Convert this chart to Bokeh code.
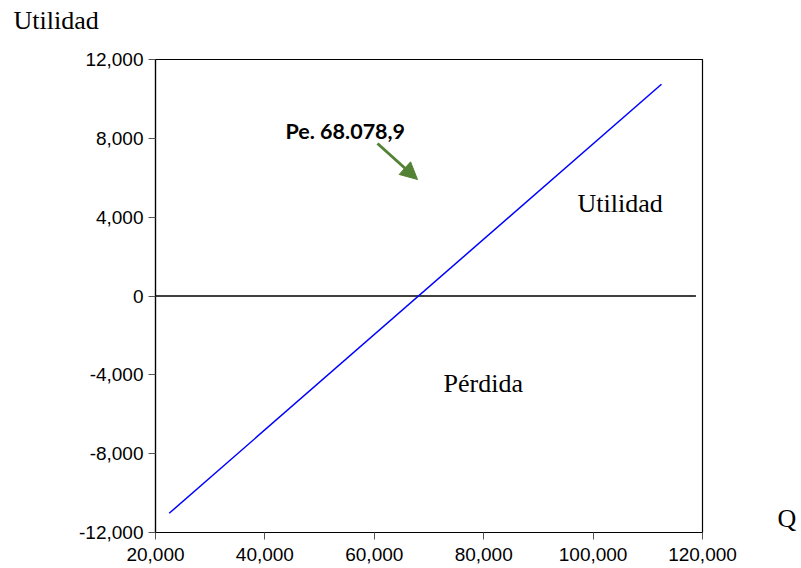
from bokeh.plotting import figure
from bokeh.models import (Range1d, FixedTicker, NumeralTickFormatter, Label, Arrow, NormalHead,
                          Title, LinearAxis)
from bokeh.embed import file_html
from bokeh.resources import INLINE

# Data
q_values = [22500, 112500]
utilidad_values = [-11026, 10747]
zero_q = [20000, 118800]
zero_u = [0, 0]
x_ticks = [20000, 40000, 60000, 80000, 100000, 120000]
y_ticks = [-12000, -8000, -4000, 0, 4000, 8000, 12000]
break_even_label = "Pe. 68.078,9"

p = figure(width=801, height=568, output_backend="svg", toolbar_location=None, title=None,
           x_range=Range1d(20000, 120000), y_range=Range1d(-12000, 12000),
           min_border_left=155, min_border_right=99, min_border_top=59, min_border_bottom=36)
p.xgrid.visible = False
p.ygrid.visible = False
p.outline_line_color = "black"
p.outline_line_width = 1.2
p.outline_line_alpha = 1

tick_font = "Liberation Sans"
for ax in (p.xaxis[0], p.yaxis[0]):
    ax.axis_line_color = "black"
    ax.axis_line_width = 1.2
    ax.major_tick_line_color = "#555555"
    ax.major_tick_in = 0
    ax.major_tick_out = 7
    ax.minor_tick_line_color = None
    ax.major_label_text_font = tick_font
    ax.major_label_text_font_size = "19px"
    ax.major_label_text_color = "black"
    ax.formatter = NumeralTickFormatter(format="0,0")
p.xaxis[0].ticker = FixedTicker(ticks=x_ticks)
p.yaxis[0].ticker = FixedTicker(ticks=y_ticks)
p.xaxis[0].major_label_standoff = 8
p.yaxis[0].major_label_standoff = 5

p.line(zero_q, zero_u, line_color="black", line_width=1.3)
p.line(q_values, utilidad_values, line_color="#0000ff", line_width=1.5)

serif = "Liberation Serif"

# Y-axis title at top-left (outside the frame); the trailing empty line lifts it up
p.add_layout(Title(text="Utilidad\n", align="left", offset=-142, vertical_align="top",
                   standoff=0, text_font=serif, text_font_size="26px",
                   text_line_height=0.8,
                   text_font_style="normal", text_color="black"), "above")

# X-axis title "Q" at the right side
props = LinearAxis.properties()
if "axis_label_orientation" in props:
    qax = LinearAxis(ticker=FixedTicker(ticks=[]), axis_label="Q\n", axis_line_color=None,
                     major_tick_line_color=None, minor_tick_line_color=None,
                     major_label_text_font_size="0px", axis_label_orientation="horizontal",
                     axis_label_text_font=serif, axis_label_text_font_size="26px",
                     axis_label_text_font_style="normal", axis_label_text_color="black",
                     axis_label_text_line_height=1.0, axis_label_standoff=75)
    if "axis_label_align" in props:
        qax.axis_label_align = "start"
    p.add_layout(qax, "right")

for txt, x, y in [("Utilidad", 97148, 4697), ("Pérdida", 72651, -4436)]:
    p.add_layout(Label(x=x, y=y, text=txt, text_font=serif, text_font_size="26px",
                       text_color="black", text_baseline="alphabetic", text_align="left"))

p.add_layout(Label(x=43766, y=8350, text=break_even_label, text_font="Lato",
                   text_font_style="bold", text_font_size="21.5px", text_color="black",
                   text_baseline="alphabetic", text_align="left"))

p.add_layout(Arrow(x_start=60585, y_start=7738, x_end=67898, y_end=5911,
                   line_color="#548235", line_width=3,
                   end=NormalHead(size=17, fill_color="#548235", line_color="#548235")))

open("out.html", "w").write(file_html(p, INLINE))
